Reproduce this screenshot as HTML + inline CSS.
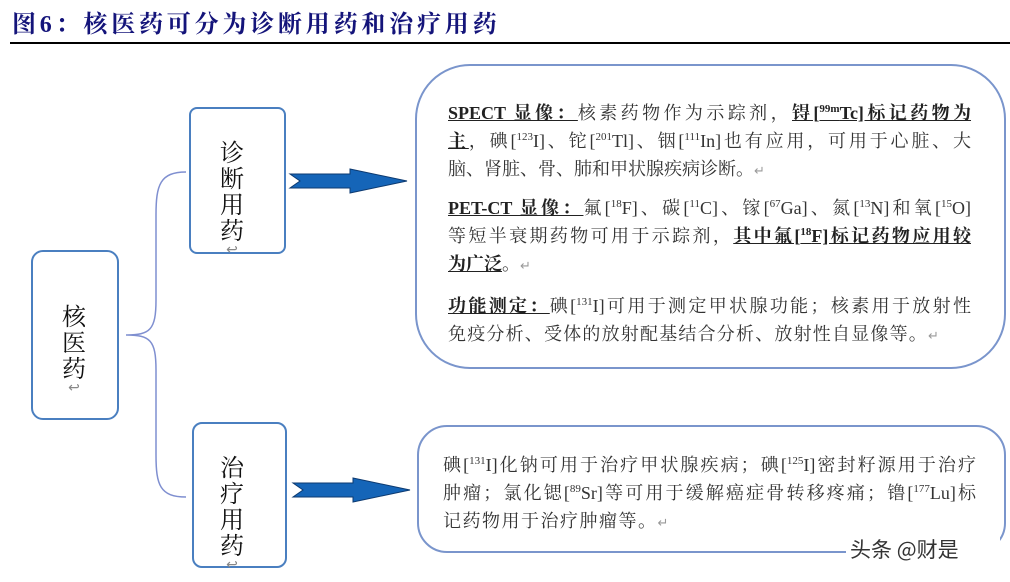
<!DOCTYPE html>
<html><head><meta charset="utf-8"><style>
body{margin:0;width:1010px;height:582px;background:#fff;position:relative;overflow:hidden;font-family:"Liberation Serif","Noto Serif CJK SC",serif;}
.title{position:absolute;left:12px;top:4px;font-size:24px;font-weight:bold;color:#14147a;font-family:"Liberation Serif","Noto Serif CJK SC",serif;letter-spacing:3.8px}
.rule{position:absolute;left:10px;top:42px;width:1000px;height:2px;background:#000}
.box{position:absolute;border:2px solid #4a7fc0;box-sizing:border-box;background:#fff}
.vt{position:absolute;font-size:24px;line-height:26px;width:30px;text-align:center;color:#111;font-family:"Noto Serif CJK SC",serif}
.vt span{color:#888;font-size:14px;display:block;line-height:14px}
.txt{position:absolute;font-size:18px;line-height:28px;color:#333}
.txt .l{text-align:justify;text-align-last:justify;white-space:nowrap;height:28px}
.txt .e{text-align:left;white-space:nowrap;height:28px}
.txt b{color:#222;text-decoration:underline}
sup{font-size:11px;line-height:0}
.rt{color:#999;font-size:13px}
</style></head><body>
<div class="title">图6：核医药可分为诊断用药和治疗用药</div>
<div class="rule"></div>
<svg width="1010" height="582" style="position:absolute;left:0;top:0">
<path d="M186 172 C160 172 156 185 156 215 L156 300 C156 330 150 335 126 335 C150 335 156 340 156 370 L156 455 C156 485 160 497 186 497" fill="none" stroke="#7f8fd0" stroke-width="1.5"/>
<polygon points="290,174 350,174 350,169 407,181 350,193 350,188 290,188 300,181" fill="#1565b8" stroke="#0d3a70" stroke-width="1"/>
<polygon points="293,483 353,483 353,478 410,490 353,502 353,497 293,497 303,490" fill="#1565b8" stroke="#0d3a70" stroke-width="1"/>
</svg>
<div class="box" style="left:31px;top:250px;width:88px;height:170px;border-radius:12px"></div>
<div class="vt" style="left:59px;top:302px">核<br>医<br>药<span>↩</span></div>
<div class="box" style="left:189px;top:107px;width:97px;height:147px;border-radius:8px"></div>
<div class="vt" style="left:217px;top:138px">诊<br>断<br>用<br>药<span>↩</span></div>
<div class="box" style="left:192px;top:422px;width:95px;height:146px;border-radius:10px"></div>
<div class="vt" style="left:217px;top:453px">治<br>疗<br>用<br>药<span>↩</span></div>
<div class="box" style="left:415px;top:64px;width:591px;height:305px;border-radius:55px;border-color:#7a95cc"></div>
<div class="txt" style="left:448px;top:99px;width:523px">
<div class="l"><b>SPECT 显像：</b>核素药物作为示踪剂，<b>锝[<sup>99m</sup>Tc]标记药物为</b></div>
<div class="l"><b>主</b>，碘[<sup>123</sup>I]、铊[<sup>201</sup>Tl]、铟[<sup>111</sup>In]也有应用，可用于心脏、大</div>
<div class="e">脑、肾脏、骨、肺和甲状腺疾病诊断。<span class="rt">↵</span></div>
<div class="l" style="margin-top:11px"><b>PET-CT 显像：</b>氟[<sup>18</sup>F]、碳[<sup>11</sup>C]、镓[<sup>67</sup>Ga]、氮[<sup>13</sup>N]和氧[<sup>15</sup>O]</div>
<div class="l">等短半衰期药物可用于示踪剂，<b>其中氟[<sup>18</sup>F]标记药物应用较</b></div>
<div class="e"><b>为广泛</b>。<span class="rt">↵</span></div>
<div class="l" style="margin-top:14px"><b>功能测定：</b>碘[<sup>131</sup>I]可用于测定甲状腺功能；核素用于放射性</div>
<div class="e" style="letter-spacing:1.2px">免疫分析、受体的放射配基结合分析、放射性自显像等。<span class="rt">↵</span></div>
</div>
<div class="box" style="left:417px;top:425px;width:589px;height:128px;border-radius:30px;border-color:#7a95cc"></div>
<div class="txt" style="left:443px;top:451px;width:533px">
<div class="l">碘[<sup>131</sup>I]化钠可用于治疗甲状腺疾病；碘[<sup>125</sup>I]密封籽源用于治疗</div>
<div class="l">肿瘤；氯化锶[<sup>89</sup>Sr]等可用于缓解癌症骨转移疼痛；镥[<sup>177</sup>Lu]标</div>
<div class="e" style="letter-spacing:1.5px">记药物用于治疗肿瘤等。<span class="rt">↵</span></div>
</div>
<div style="position:absolute;left:846px;top:534px;width:150px;height:30px;background:#fff;font-family:'Noto Sans CJK SC',sans-serif;font-size:21px;line-height:30px;color:#333;padding-left:4px">头条 @财是</div>
</body></html>
